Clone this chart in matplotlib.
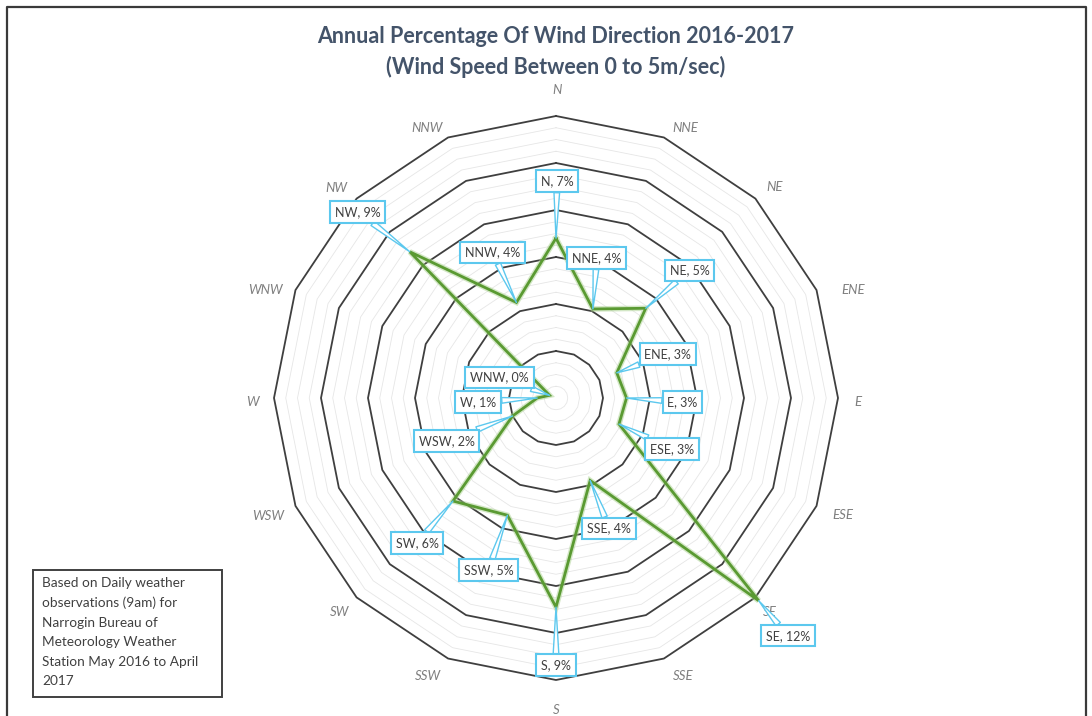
import numpy as np
import matplotlib
matplotlib.use("Agg")
import matplotlib.pyplot as plt
from matplotlib.patches import Rectangle
from matplotlib.lines import Line2D

# ---- data ----
directions = ["N", "NNE", "NE", "ENE", "E", "ESE", "SE", "SSE",
              "S", "SSW", "SW", "WSW", "W", "WNW", "NW", "NNW"]
percent = [6.8, 4.1, 5.4, 2.8, 3.0, 2.9, 12.2, 3.8,
           8.9, 5.4, 6.2, 2.0, 0.8, 0.3, 8.8, 4.4]
label_pct = [7, 4, 5, 3, 3, 3, 12, 4, 9, 5, 6, 2, 1, 0, 9, 4]
major_rings = [2, 4, 6, 8, 10, 12]
title = "Annual Percentage Of Wind Direction 2016-2017\n(Wind Speed Between 0 to 5m/sec)"
note = ("Based on Daily weather\nobservations (9am) for\nNarrogin Bureau of\n"
        "Meteorology Weather\nStation May 2016 to April\n2017")

# callout label offsets (pixels: right, down) from each point
label_offsets = [(1, -57), (4, -51), (44, -38), (51, -19), (56, 4), (53, 25),
                 (29, 35), (19, 48), (0, 58), (-19, 55), (-36, 42), (-66, 25),
                 (-59, 4), (-50, -18), (-52, -40), (-24, -50)]
# small pixel nudges for the category labels (right, down)
cat_nudges = [(1, -3), (12, 12), (3, 5), (15, 9), (-4, 4), (5, 0), (-2, -2), (10, -4),
              (0, 7), (-11, -4), (0, -2), (-6, 1), (2, 4), (-8, 9), (-4, 6), (-12, 12)]

W, H = 1092, 716
fig = plt.figure(figsize=(W / 100, H / 100), dpi=100)
fig.patch.set_facecolor("white")
FONT = "Lato"

cx, cy = 556, 398
rmax = 13
pix_per = 23.5
R = rmax * pix_per
ax = fig.add_axes([(cx - R) / W, (H - cy - R) / H, 2 * R / W, 2 * R / H], projection="polar")
ax.set_theta_zero_location("N")
ax.set_theta_direction(-1)
ax.set_ylim(0, rmax)
ax.grid(False)
ax.set_xticks([])
ax.set_yticks([])
ax.spines["polar"].set_visible(False)
ax.patch.set_alpha(0)

n = len(directions)
theta = np.arange(n) * 2 * np.pi / n
theta_c = np.append(theta, theta[0])

# minor rings
for r in np.arange(0.5, 12.01, 0.5):
    if r in major_rings:
        continue
    ax.plot(theta_c, [r] * (n + 1), color="#e6e6e6", lw=0.6, zorder=1)
# major rings
for r in major_rings:
    ax.plot(theta_c, [r] * (n + 1), color="#3f3f3f", lw=1.3, zorder=2)

# data line
vals_c = percent + [percent[0]]
ax.plot(theta_c, vals_c, color="#a9d18e", lw=4.0, alpha=0.5, zorder=3, solid_joinstyle="miter")
ax.plot(theta_c, vals_c, color="#5a9a32", lw=2.0, zorder=4, solid_joinstyle="miter")

# direction labels
for t, d, (nx, ny) in zip(theta, directions, cat_nudges):
    ax.annotate(d, xy=(t, 13.0), xytext=(nx, -ny), textcoords="offset pixels",
                ha="center", va="center", fontsize=9.5, style="italic",
                color="#7f7f7f", family=FONT, annotation_clip=False)

# data callouts
for t, v, d, p, (dx, dy) in zip(theta, percent, directions, label_pct, label_offsets):
    ax.annotate(f"{d}, {p}%", xy=(t, v), xytext=(dx, -dy), textcoords="offset pixels",
                ha="center", va="center", fontsize=9, color="#404040", family=FONT,
                bbox=dict(boxstyle="square,pad=0.38", fc="white", ec="#5cc8ee", lw=1.5),
                arrowprops=dict(arrowstyle="wedge,tail_width=0.45", fc="white", ec="#5cc8ee",
                                lw=1.0, shrinkA=0, shrinkB=0),
                zorder=6, annotation_clip=False)

# title
fig.text(cx / W, 1 - 52 / H, title, ha="center", va="center", fontsize=15.5,
         fontweight="bold", color="#44546a", family=FONT, linespacing=1.45)

# note box
fig.add_artist(Rectangle((33 / W, 1 - 697 / H), (222 - 33) / W, (697 - 570) / H,
                         transform=fig.transFigure, fill=False, ec="#404040", lw=1.4))
fig.text(42 / W, 1 - 577 / H, note, ha="left", va="top", fontsize=9.8, color="#404040",
         family=FONT, linespacing=1.75)

# outer frame (left, top, right)
fx0, fx1, fy0 = 7 / W, 1086 / W, 1 - 7 / H
fig.add_artist(Line2D([fx0, fx0, fx1, fx1], [0, fy0, fy0, 0], transform=fig.transFigure,
                      color="#3a3a3a", lw=1.6))

fig.savefig("out.png", dpi=100)
